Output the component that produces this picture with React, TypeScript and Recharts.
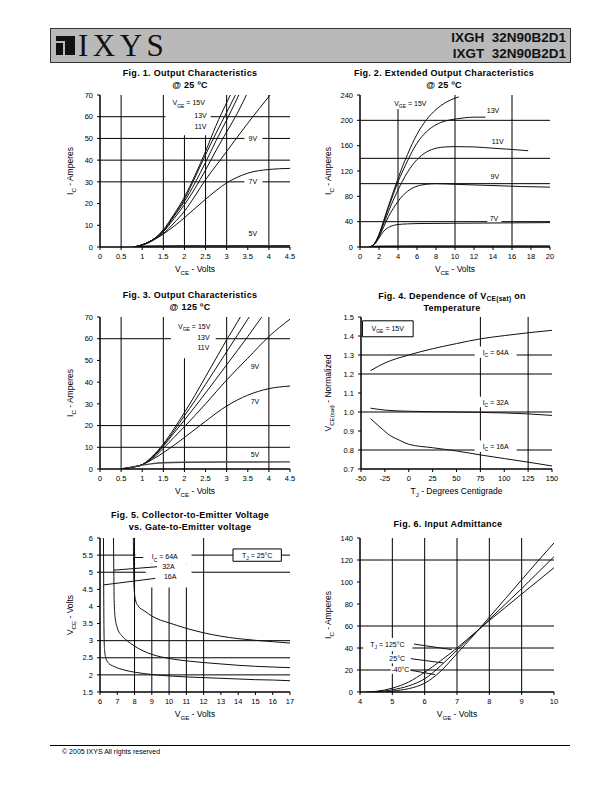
import React from 'react';
import {
  LineChart, Line, XAxis, YAxis, CartesianGrid, ReferenceArea, ReferenceLine, ReferenceDot,
} from 'recharts';

type Pt = { x: number; y: number };
type Part = [string, 'n' | 'sub' | 'sup'];

const FONT = '"Liberation Sans", Arial, Helvetica, sans-serif';

// ---------------- Fig. 1 : Output characteristics @ 25 C ----------------
const fig1XTicks = [0, 0.5, 1, 1.5, 2, 2.5, 3, 3.5, 4, 4.5];
const fig1YTicks = [0, 10, 20, 30, 40, 50, 60, 70];
const fig1GridX = [0.5, 1.5, 2, 2.5, 3, 4];
const fig1GridY = [30, 40, 50, 60];
const fig1Vge15: Pt[] = [{ x: 0.8, y: 0 }, { x: 1, y: 1 }, { x: 1.3, y: 4 }, { x: 1.5, y: 8 }, { x: 1.75, y: 15 }, { x: 2, y: 23 }, { x: 2.25, y: 33 }, { x: 2.5, y: 44 }, { x: 2.75, y: 56 }, { x: 3, y: 66.5 }, { x: 3.1, y: 70.5 }];
const fig1Vge13: Pt[] = [{ x: 0.8, y: 0 }, { x: 1, y: 1 }, { x: 1.3, y: 4 }, { x: 1.5, y: 7.5 }, { x: 1.75, y: 14.5 }, { x: 2, y: 22 }, { x: 2.25, y: 32 }, { x: 2.5, y: 42.5 }, { x: 2.75, y: 52.5 }, { x: 3, y: 62 }, { x: 3.22, y: 70.5 }];
const fig1Vge11: Pt[] = [{ x: 0.8, y: 0 }, { x: 1, y: 1 }, { x: 1.3, y: 4 }, { x: 1.5, y: 7.2 }, { x: 1.75, y: 14 }, { x: 2, y: 21 }, { x: 2.25, y: 29.5 }, { x: 2.5, y: 39 }, { x: 2.75, y: 49 }, { x: 3, y: 58.5 }, { x: 3.3, y: 70.5 }];
const fig1VgeExtra: Pt[] = [{ x: 0.8, y: 0 }, { x: 1, y: 1 }, { x: 1.3, y: 4 }, { x: 1.5, y: 7 }, { x: 1.75, y: 13 }, { x: 2, y: 19.5 }, { x: 2.25, y: 27 }, { x: 2.5, y: 35.5 }, { x: 2.75, y: 44.5 }, { x: 3, y: 53 }, { x: 3.25, y: 61.5 }, { x: 3.48, y: 70.5 }];
const fig1Vge9: Pt[] = [{ x: 0.8, y: 0 }, { x: 1, y: 1 }, { x: 1.3, y: 3.8 }, { x: 1.5, y: 6.2 }, { x: 1.75, y: 11 }, { x: 2, y: 16.5 }, { x: 2.25, y: 23.5 }, { x: 2.5, y: 31 }, { x: 2.75, y: 37.5 }, { x: 3, y: 44 }, { x: 3.5, y: 57 }, { x: 4.05, y: 70.5 }];
const fig1Vge7: Pt[] = [{ x: 0.8, y: 0 }, { x: 1, y: 0.8 }, { x: 1.3, y: 3.5 }, { x: 1.5, y: 6 }, { x: 1.75, y: 9.5 }, { x: 2, y: 13.5 }, { x: 2.5, y: 22 }, { x: 3, y: 29.5 }, { x: 3.5, y: 34 }, { x: 4, y: 35.7 }, { x: 4.5, y: 36.2 }];
const fig1Vge5: Pt[] = [{ x: 0.8, y: 0 }, { x: 1.2, y: 0.4 }, { x: 2, y: 0.6 }, { x: 4.5, y: 0.6 }];

// ---------------- Fig. 2 : Extended output characteristics ----------------
const fig2XTicks = [0, 2, 4, 6, 8, 10, 12, 14, 16, 18, 20];
const fig2YTicks = [0, 40, 80, 120, 160, 200, 240];
const fig2GridX = [4, 10, 16];
const fig2GridY = [40, 100, 140, 200];
const fig2Vge15: Pt[] = [{ x: 1, y: 0 }, { x: 1.5, y: 5 }, { x: 2, y: 20 }, { x: 2.5, y: 42 }, { x: 3, y: 65 }, { x: 3.5, y: 87 }, { x: 4, y: 108 }, { x: 4.5, y: 128 }, { x: 5, y: 146 }, { x: 5.5, y: 163 }, { x: 6, y: 178 }, { x: 7, y: 201 }, { x: 8, y: 217 }, { x: 9, y: 228 }, { x: 10, y: 235 }, { x: 10.4, y: 237 }];
const fig2Vge13: Pt[] = [{ x: 1, y: 0 }, { x: 1.5, y: 5 }, { x: 2, y: 19 }, { x: 2.5, y: 40 }, { x: 3, y: 62 }, { x: 3.5, y: 83 }, { x: 4, y: 103 }, { x: 4.5, y: 120 }, { x: 5, y: 136 }, { x: 5.5, y: 151 }, { x: 6, y: 164 }, { x: 7, y: 182 }, { x: 8, y: 193 }, { x: 9, y: 199 }, { x: 10, y: 202 }, { x: 11, y: 204 }, { x: 12, y: 205 }, { x: 13.2, y: 205 }];
const fig2Vge11: Pt[] = [{ x: 1, y: 0 }, { x: 1.5, y: 5 }, { x: 2, y: 18 }, { x: 2.5, y: 37 }, { x: 3, y: 56 }, { x: 3.5, y: 74 }, { x: 4, y: 90 }, { x: 4.5, y: 105 }, { x: 5, y: 118 }, { x: 6, y: 138 }, { x: 7, y: 150 }, { x: 8, y: 156 }, { x: 9, y: 158 }, { x: 10, y: 158.5 }, { x: 12, y: 158 }, { x: 14, y: 156 }, { x: 16, y: 154 }, { x: 17.7, y: 152 }];
const fig2Vge9: Pt[] = [{ x: 1, y: 0 }, { x: 1.5, y: 4 }, { x: 2, y: 16 }, { x: 2.5, y: 32 }, { x: 3, y: 48 }, { x: 3.5, y: 61 }, { x: 4, y: 72 }, { x: 4.5, y: 81 }, { x: 5, y: 88 }, { x: 6, y: 96 }, { x: 7, y: 99 }, { x: 8, y: 100 }, { x: 10, y: 99 }, { x: 14, y: 97 }, { x: 17, y: 95.5 }, { x: 20, y: 94.5 }];
const fig2Vge7: Pt[] = [{ x: 1, y: 0 }, { x: 1.5, y: 4 }, { x: 2, y: 14 }, { x: 2.5, y: 25 }, { x: 3, y: 31 }, { x: 3.5, y: 34 }, { x: 4, y: 35.5 }, { x: 5, y: 36.5 }, { x: 6, y: 37 }, { x: 10, y: 37.5 }, { x: 15, y: 38 }, { x: 20, y: 38.5 }];
const fig2Vge5: Pt[] = [{ x: 1, y: 0 }, { x: 2, y: 1 }, { x: 5, y: 1.5 }, { x: 20, y: 1.5 }];

// ---------------- Fig. 3 : Output characteristics @ 125 C ----------------
const fig3XTicks = [0, 0.5, 1, 1.5, 2, 2.5, 3, 3.5, 4, 4.5];
const fig3YTicks = [0, 10, 20, 30, 40, 50, 60, 70];
const fig3GridX = [0.5, 1.5, 2, 3, 4];
const fig3GridY = [10, 20, 60];
const fig3Vge15: Pt[] = [{ x: 0.5, y: 0 }, { x: 0.75, y: 0.8 }, { x: 1, y: 2 }, { x: 1.25, y: 6 }, { x: 1.5, y: 11.5 }, { x: 1.75, y: 18.5 }, { x: 2, y: 26 }, { x: 2.25, y: 34 }, { x: 2.5, y: 42.5 }, { x: 2.75, y: 51 }, { x: 3, y: 59.5 }, { x: 3.25, y: 67.5 }, { x: 3.34, y: 70.5 }];
const fig3Vge13: Pt[] = [{ x: 0.5, y: 0 }, { x: 0.75, y: 0.8 }, { x: 1, y: 2 }, { x: 1.25, y: 5.8 }, { x: 1.5, y: 11 }, { x: 1.75, y: 17.5 }, { x: 2, y: 24.5 }, { x: 2.25, y: 31.5 }, { x: 2.5, y: 39 }, { x: 2.75, y: 46.5 }, { x: 3, y: 54 }, { x: 3.25, y: 61.5 }, { x: 3.5, y: 69 }, { x: 3.55, y: 70.5 }];
const fig3Vge11: Pt[] = [{ x: 0.5, y: 0 }, { x: 0.75, y: 0.8 }, { x: 1, y: 2 }, { x: 1.25, y: 5.5 }, { x: 1.5, y: 10.5 }, { x: 1.75, y: 16.5 }, { x: 2, y: 22.5 }, { x: 2.5, y: 35 }, { x: 3, y: 48 }, { x: 3.5, y: 61 }, { x: 3.85, y: 70.5 }];
const fig3Vge9: Pt[] = [{ x: 0.5, y: 0 }, { x: 0.75, y: 0.8 }, { x: 1, y: 2 }, { x: 1.25, y: 5 }, { x: 1.5, y: 9.5 }, { x: 1.75, y: 14.5 }, { x: 2, y: 19.5 }, { x: 2.5, y: 30 }, { x: 3, y: 41 }, { x: 3.5, y: 51 }, { x: 4, y: 61 }, { x: 4.5, y: 69 }];
const fig3Vge7: Pt[] = [{ x: 0.5, y: 0 }, { x: 0.75, y: 0.8 }, { x: 1, y: 2 }, { x: 1.25, y: 4.5 }, { x: 1.5, y: 7.5 }, { x: 2, y: 14.5 }, { x: 2.5, y: 22 }, { x: 3, y: 29 }, { x: 3.5, y: 34 }, { x: 4, y: 37 }, { x: 4.5, y: 38.2 }];
const fig3Vge5: Pt[] = [{ x: 0.5, y: 0 }, { x: 0.75, y: 0.8 }, { x: 1, y: 1.8 }, { x: 1.25, y: 2.5 }, { x: 1.5, y: 2.9 }, { x: 2, y: 3.1 }, { x: 3, y: 3.2 }, { x: 4.5, y: 3.3 }];

// ---------------- Fig. 4 : VCE(sat) vs temperature ----------------
const fig4XTicks = [-50, -25, 0, 25, 50, 75, 100, 125, 150];
const fig4YTicks = [0.7, 0.8, 0.9, 1.0, 1.1, 1.2, 1.3, 1.4, 1.5];
const fig4GridX = [75, 125];
const fig4GridY = [0.8, 1.0, 1.2, 1.3];
const fig4Ic64: Pt[] = [{ x: -40, y: 1.218 }, { x: -25, y: 1.258 }, { x: 0, y: 1.3 }, { x: 25, y: 1.333 }, { x: 50, y: 1.36 }, { x: 75, y: 1.385 }, { x: 100, y: 1.402 }, { x: 125, y: 1.417 }, { x: 150, y: 1.43 }];
const fig4Ic32: Pt[] = [{ x: -40, y: 1.02 }, { x: -25, y: 1.01 }, { x: 0, y: 1.004 }, { x: 50, y: 1.0 }, { x: 100, y: 0.995 }, { x: 125, y: 0.99 }, { x: 150, y: 0.982 }];
const fig4Ic16: Pt[] = [{ x: -40, y: 0.965 }, { x: -30, y: 0.92 }, { x: -20, y: 0.878 }, { x: -10, y: 0.852 }, { x: 0, y: 0.83 }, { x: 25, y: 0.812 }, { x: 50, y: 0.795 }, { x: 75, y: 0.774 }, { x: 100, y: 0.755 }, { x: 125, y: 0.736 }, { x: 150, y: 0.716 }];

// ---------------- Fig. 5 : VCE vs VGE ----------------
const fig5XTicks = [6, 7, 8, 9, 10, 11, 12, 13, 14, 15, 16, 17];
const fig5YTicks = [1.5, 2, 2.5, 3, 3.5, 4, 4.5, 5, 5.5, 6];
const fig5GridX = [8, 9, 10, 11, 12];
const fig5GridY = [2, 2.5, 3, 5, 5.5];
const fig5Ic64: Pt[] = [{ x: 7.93, y: 6.05 }, { x: 7.95, y: 5 }, { x: 7.98, y: 4.5 }, { x: 8.05, y: 4.2 }, { x: 8.2, y: 4.02 }, { x: 8.6, y: 3.86 }, { x: 9, y: 3.72 }, { x: 9.5, y: 3.6 }, { x: 10, y: 3.52 }, { x: 11, y: 3.36 }, { x: 12, y: 3.23 }, { x: 13, y: 3.13 }, { x: 14, y: 3.06 }, { x: 15, y: 3.01 }, { x: 16, y: 2.97 }, { x: 17, y: 2.93 }];
const fig5Ic32: Pt[] = [{ x: 6.78, y: 6.05 }, { x: 6.8, y: 5 }, { x: 6.82, y: 4.2 }, { x: 6.87, y: 3.7 }, { x: 7, y: 3.38 }, { x: 7.25, y: 3.15 }, { x: 7.57, y: 3.0 }, { x: 8, y: 2.84 }, { x: 8.5, y: 2.7 }, { x: 9, y: 2.6 }, { x: 10, y: 2.48 }, { x: 11, y: 2.41 }, { x: 12, y: 2.36 }, { x: 13, y: 2.32 }, { x: 14, y: 2.28 }, { x: 15, y: 2.25 }, { x: 16, y: 2.23 }, { x: 17, y: 2.21 }];
const fig5Ic16: Pt[] = [{ x: 6.2, y: 6.05 }, { x: 6.21, y: 5 }, { x: 6.22, y: 4 }, { x: 6.24, y: 3 }, { x: 6.27, y: 2.7 }, { x: 6.35, y: 2.47 }, { x: 6.5, y: 2.34 }, { x: 6.8, y: 2.25 }, { x: 7.5, y: 2.13 }, { x: 8, y: 2.08 }, { x: 9, y: 2.01 }, { x: 10, y: 1.97 }, { x: 11, y: 1.94 }, { x: 12, y: 1.92 }, { x: 13, y: 1.9 }, { x: 14, y: 1.88 }, { x: 15, y: 1.86 }, { x: 16, y: 1.85 }, { x: 17, y: 1.83 }];

// ---------------- Fig. 6 : Input admittance ----------------
const fig6XTicks = [4, 5, 6, 7, 8, 9, 10];
const fig6YTicks = [0, 20, 40, 60, 80, 100, 120, 140];
const fig6GridX = [5, 6, 7, 8, 9];
const fig6GridY = [20, 40, 60, 120];
const fig6Tj125: Pt[] = [{ x: 4.2, y: 0 }, { x: 4.5, y: 0.6 }, { x: 5, y: 3.5 }, { x: 5.5, y: 9 }, { x: 6, y: 18 }, { x: 6.5, y: 28.5 }, { x: 7, y: 40 }, { x: 7.5, y: 52.5 }, { x: 8, y: 65 }, { x: 8.5, y: 77 }, { x: 9, y: 89 }, { x: 9.5, y: 101 }, { x: 10, y: 113 }];
const fig6Tj25: Pt[] = [{ x: 4.5, y: 0 }, { x: 5, y: 2 }, { x: 5.5, y: 5.5 }, { x: 6, y: 12 }, { x: 6.5, y: 24 }, { x: 7, y: 38 }, { x: 7.5, y: 52 }, { x: 8, y: 66 }, { x: 8.5, y: 80 }, { x: 9, y: 94 }, { x: 9.5, y: 108.5 }, { x: 10, y: 123 }];
const fig6TjM40: Pt[] = [{ x: 4.8, y: 0 }, { x: 5, y: 0.8 }, { x: 5.5, y: 3 }, { x: 6, y: 8 }, { x: 6.5, y: 19 }, { x: 7, y: 35 }, { x: 7.5, y: 51 }, { x: 8, y: 68 }, { x: 8.5, y: 85 }, { x: 9, y: 102 }, { x: 9.5, y: 119 }, { x: 10, y: 135.5 }];

// ---------------- helpers ----------------
const Y_W = 40;
const M_T = 5;
const M_R = 8;
const X_H = 35;
const tickStyle = { fontSize: 7.5, fill: '#000', fontFamily: FONT };

function Rich(props: { x: number; y: number; parts: Part[]; size?: number; anchor?: 'start' | 'middle' | 'end'; rotate?: boolean }) {
  const { x, y, parts, size = 7, anchor = 'middle', rotate = false } = props;
  let shift = 0;
  const spans = parts.map(([t, k], i) => {
    const target = k === 'sub' ? size * 0.32 : k === 'sup' ? -size * 0.4 : 0;
    const dy = target - shift;
    shift = target;
    return (
      <tspan key={i} dy={dy} fontSize={k === 'n' ? size : size * 0.72}>{t}</tspan>
    );
  });
  return (
    <text x={x} y={y} textAnchor={anchor} fontFamily={FONT} fontSize={size} fill="#000"
      transform={rotate ? `rotate(-90 ${x} ${y})` : undefined}>
      {spans}
    </text>
  );
}

const axisTitleX = (parts: Part[]) => (p: any) => {
  const vb = p.viewBox || { x: 0, y: 0, width: 0, height: 0 };
  return <Rich x={vb.x + vb.width / 2} y={vb.y + 25} parts={parts} size={8.5} />;
};
const axisTitleY = (parts: Part[], dist: number) => (p: any) => {
  const vb = p.viewBox || { x: 0, y: 0, width: 0, height: 0 };
  const cx = vb.x + vb.width - dist;
  const cy = vb.y + vb.height / 2;
  return <Rich x={cx + 3} y={cy} parts={parts} size={8.5} rotate />;
};

function xAxis(domain: [number, number], ticks: number[], title: Part[], fmt?: (v: number) => string) {
  return (
    <XAxis type="number" dataKey="x" domain={domain} ticks={ticks} interval={0} allowDataOverflow
      tick={tickStyle} tickLine={{ stroke: '#000' }} tickSize={3} tickMargin={4}
      axisLine={{ stroke: '#000', strokeWidth: 1.5 }} height={X_H} tickFormatter={fmt}
      label={axisTitleX(title)} />
  );
}
function yAxis(domain: [number, number], ticks: number[], title: Part[], dist: number, fmt?: (v: number) => string) {
  return (
    <YAxis type="number" domain={domain} ticks={ticks} interval={0} allowDataOverflow
      tick={tickStyle} tickLine={{ stroke: '#000' }} tickSize={3} tickMargin={4}
      axisLine={{ stroke: '#000', strokeWidth: 1.5 }} width={Y_W} tickFormatter={fmt}
      label={axisTitleY(title, dist)} />
  );
}
const curve = (k: string, data: Pt[], w = 1, color = '#111') => (
  <Line key={k} data={data} dataKey="y" type="monotone" stroke={color} strokeWidth={w}
    dot={false} activeDot={false} isAnimationActive={false} />
);
const mask = (k: string, x1: number, x2: number, y1: number, y2: number, stroke?: string) => (
  <ReferenceArea key={k} x1={x1} x2={x2} y1={y1} y2={y2} fill="#fff" fillOpacity={1}
    stroke={stroke ?? 'none'} strokeWidth={1} />
);
const note = (k: string, x: number, y: number, parts: Part[], size = 7) => (
  <ReferenceDot key={k} x={x} y={y} r={0} fill="none" stroke="none"
    label={(p: any) => {
      const vb = p.viewBox || { x: 0, y: 0, width: 0, height: 0 };
      const cx = vb.x + (vb.width || 0) / 2;
      const cy = vb.y + (vb.height || 0) / 2;
      return <Rich x={cx} y={cy + size * 0.35} parts={parts} size={size} />;
    }} />
);
const leader = (k: string, x1: number, y1: number, x2: number, y2: number) => (
  <ReferenceLine key={k} segment={[{ x: x1, y: y1 }, { x: x2, y: y2 }]} stroke="#111" strokeWidth={1} />
);
const grid = (gx: number[], gy: number[]) => (
  <CartesianGrid stroke="#000" strokeWidth={1} horizontalValues={gy} verticalValues={gx} />
);

function Panel(props: { plotLeft: number; plotTop: number; plotW: number; plotH: number; children: React.ReactNode }) {
  const { plotLeft, plotTop, plotW, plotH, children } = props;
  return (
    <div style={{ position: 'absolute', left: plotLeft - Y_W, top: plotTop - M_T }}>
      <LineChart width={Y_W + plotW + M_R} height={M_T + plotH + X_H}
        margin={{ top: M_T, right: M_R, left: 0, bottom: 0 }}>
        {children}
      </LineChart>
    </div>
  );
}

function Title(props: { cx: number; top: number; children: React.ReactNode }) {
  return (
    <div style={{
      position: 'absolute', left: props.cx - 150, width: 300, top: props.top, textAlign: 'center',
      fontFamily: FONT, fontWeight: 'bold', fontSize: 9, lineHeight: '12px', letterSpacing: 0.3, color: '#000',
    }}>{props.children}</div>
  );
}

const VCE: Part[] = [['V', 'n'], ['CE', 'sub'], [' - Volts', 'n']];
const VGE: Part[] = [['V', 'n'], ['GE', 'sub'], [' - Volts', 'n']];
const IC: Part[] = [['I', 'n'], ['C', 'sub'], [' - Amperes', 'n']];
const fmt1 = (v: number) => v.toFixed(1);
const fmtHalf = (v: number) => (Number.isInteger(v) ? String(v) : v.toFixed(1));

export default function App() {
  return (
    <div style={{ position: 'absolute', left: 0, top: 0, width: 595, height: 791, background: '#fff', overflow: 'hidden' }}>
      {/* header */}
      <div style={{ position: 'absolute', left: 50, top: 28, width: 519, height: 33, background: '#b9b9b9', border: '1px solid #333' }}>
        <div style={{ position: 'absolute', left: 5, top: 7, width: 19, height: 19, background: '#111' }}>
          <div style={{ position: 'absolute', left: 0, top: 5, width: 9, height: 2, background: '#b9b9b9' }} />
          <div style={{ position: 'absolute', left: 7, top: 5, width: 2, height: 14, background: '#b9b9b9' }} />
        </div>
        <div style={{ position: 'absolute', left: 27, top: -1, fontFamily: '"Liberation Serif", "DejaVu Serif", serif', fontSize: 31, letterSpacing: 4.5, color: '#111', lineHeight: '36px' }}>IXYS</div>
        <div style={{ position: 'absolute', right: 4, top: 1, textAlign: 'right', fontFamily: FONT, fontWeight: 'bold', fontSize: 13.5, lineHeight: '16px', color: '#111', whiteSpace: 'pre' }}>
          {'IXGH  32N90B2D1\nIXGT  32N90B2D1'}
        </div>
      </div>

      {/* titles */}
      <Title cx={190} top={67}>Fig. 1. Output Characteristics<br />@ 25 ºC</Title>
      <Title cx={444} top={67}>Fig. 2. Extended Output Characteristics<br />@ 25 ºC</Title>
      <Title cx={190} top={289}>Fig. 3. Output Characteristics<br />@ 125 ºC</Title>
      <Title cx={452} top={290}>
        Fig. 4. Dependence of V<span style={{ fontSize: 6.5, verticalAlign: '-2px', lineHeight: 0 }}>CE(sat)</span> on<br />Temperature
      </Title>
      <Title cx={190} top={509}>Fig. 5. Collector-to-Emitter Voltage<br />vs. Gate-to-Emitter voltage</Title>
      <Title cx={448} top={518}>Fig. 6. Input Admittance</Title>

      {/* Fig 1 */}
      <Panel plotLeft={100} plotTop={95} plotW={190} plotH={152}>
        {grid(fig1GridX, fig1GridY)}
        {xAxis([0, 4.5], fig1XTicks, VCE)}
        {yAxis([0, 70], fig1YTicks, IC, 30)}
        {mask('m1', 1.55, 2.62, 51.5, 70)}
        {mask('m2', 3.42, 3.85, 47.2, 52.8)}
        {mask('m3', 3.42, 3.85, 27.2, 32.8)}
        {curve('c15', fig1Vge15)}
        {curve('c13', fig1Vge13)}
        {curve('c11', fig1Vge11)}
        {curve('cx', fig1VgeExtra)}
        {curve('c9', fig1Vge9)}
        {curve('c7', fig1Vge7)}
        {curve('c5', fig1Vge5, 1.6, '#333')}
        {note('n1', 2.1, 66.3, [['V', 'n'], ['GE', 'sub'], [' = 15V', 'n']])}
        {note('n2', 2.38, 60.6, [['13V', 'n']])}
        {note('n3', 2.38, 55.5, [['11V', 'n']])}
        {note('n4', 3.62, 50, [['9V', 'n']])}
        {note('n5', 3.62, 30, [['7V', 'n']])}
        {note('n6', 3.62, 6, [['5V', 'n']])}
      </Panel>

      {/* Fig 2 */}
      <Panel plotLeft={360} plotTop={95} plotW={190} plotH={152}>
        {grid(fig2GridX, fig2GridY)}
        {xAxis([0, 20], fig2XTicks, VCE)}
        {yAxis([0, 240], fig2YTicks, IC, 32)}
        {mask('m1', 3.3, 7.7, 218, 240)}
        {mask('m2', 13.4, 14.9, 39.2, 50)}
        {curve('c15', fig2Vge15)}
        {curve('c13', fig2Vge13)}
        {curve('c11', fig2Vge11)}
        {curve('c9', fig2Vge9)}
        {curve('c7', fig2Vge7)}
        {curve('c5', fig2Vge5, 1.6, '#333')}
        {note('n1', 5.3, 227, [['V', 'n'], ['GE', 'sub'], [' = 15V', 'n']])}
        {note('n2', 14, 215, [['13V', 'n']])}
        {note('n3', 14.5, 166, [['11V', 'n']])}
        {note('n4', 14.2, 111, [['9V', 'n']])}
        {note('n5', 14.1, 45, [['7V', 'n']])}
      </Panel>

      {/* Fig 3 */}
      <Panel plotLeft={100} plotTop={317} plotW={190} plotH={152}>
        {grid(fig3GridX, fig3GridY)}
        {xAxis([0, 4.5], fig3XTicks, VCE)}
        {yAxis([0, 70], fig3YTicks, IC, 30)}
        {mask('m1', 1.68, 2.74, 51, 70)}
        {curve('c15', fig3Vge15)}
        {curve('c13', fig3Vge13)}
        {curve('c11', fig3Vge11)}
        {curve('c9', fig3Vge9)}
        {curve('c7', fig3Vge7)}
        {curve('c5', fig3Vge5, 1.4, '#444')}
        {note('n1', 2.23, 65.5, [['V', 'n'], ['GE', 'sub'], [' = 15V', 'n']])}
        {note('n2', 2.45, 60.6, [['13V', 'n']])}
        {note('n3', 2.45, 56, [['11V', 'n']])}
        {note('n4', 3.67, 47, [['9V', 'n']])}
        {note('n5', 3.67, 31, [['7V', 'n']])}
        {note('n6', 3.67, 6.8, [['5V', 'n']])}
      </Panel>

      {/* Fig 4 */}
      <Panel plotLeft={361} plotTop={317} plotW={191} plotH={152}>
        {grid(fig4GridX, fig4GridY)}
        {xAxis([-50, 150], fig4XTicks, [['T', 'n'], ['J', 'sub'], [' - Degrees Centigrade', 'n']])}
        {yAxis([0.7, 1.5], fig4YTicks, [['V', 'n'], ['CE(sat)', 'sub'], [' - Normalized', 'n']], 33, fmt1)}
        {mask('m1', -48.5, 4.6, 1.396, 1.48, '#000')}
        {mask('m2', 69, 113, 1.285, 1.345)}
        {mask('m3', 69, 113, 1.025, 1.08)}
        {mask('m4', 69, 113, 0.79, 0.85)}
        {curve('c64', fig4Ic64)}
        {curve('c32', fig4Ic32)}
        {curve('c16', fig4Ic16)}
        {note('n1', -22, 1.438, [['V', 'n'], ['GE', 'sub'], [' = 15V', 'n']])}
        {note('n2', 91, 1.313, [['I', 'n'], ['C', 'sub'], [' = 64A', 'n']])}
        {note('n3', 91, 1.052, [['I', 'n'], ['C', 'sub'], [' = 32A', 'n']])}
        {note('n4', 91, 0.82, [['I', 'n'], ['C', 'sub'], [' = 16A', 'n']])}
      </Panel>

      {/* Fig 5 */}
      <Panel plotLeft={100} plotTop={538} plotW={190} plotH={154}>
        {grid(fig5GridX, fig5GridY)}
        {xAxis([6, 17], fig5XTicks, VGE)}
        {yAxis([1.5, 6], fig5YTicks, [['V', 'n'], ['CE', 'sub'], [' - Volts', 'n']], 30, fmtHalf)}
        {mask('m1', 8.05, 11.3, 5.25, 6)}
        {mask('m2', 8.65, 11.3, 4.55, 5.25)}
        {mask('m3', 13.7, 16.5, 5.32, 5.68, '#000')}
        {curve('c64', fig5Ic64)}
        {curve('c32', fig5Ic32)}
        {curve('c16', fig5Ic16)}
        {leader('l1', 7.97, 5.43, 8.5, 5.43)}
        {leader('l2', 6.8, 5.06, 9.3, 5.16)}
        {leader('l3', 6.22, 4.63, 9.2, 4.82)}
        {note('n1', 9.75, 5.45, [['I', 'n'], ['C', 'sub'], [' = 64A', 'n']])}
        {note('n2', 9.96, 5.18, [['32A', 'n']])}
        {note('n3', 10.06, 4.86, [['16A', 'n']])}
        {note('n4', 15.1, 5.5, [['T', 'n'], ['J', 'sub'], [' = 25°C', 'n']])}
      </Panel>

      {/* Fig 6 */}
      <Panel plotLeft={360} plotTop={538} plotW={194} plotH={154}>
        {grid(fig6GridX, fig6GridY)}
        {xAxis([4, 10], fig6XTicks, VGE)}
        {yAxis([0, 140], fig6YTicks, IC, 32)}
        {mask('m1', 4.1, 5.62, 37, 49)}
        {mask('m2', 4.95, 5.45, 26, 34.5)}
        {mask('m3', 4.95, 5.55, 16.5, 23.5)}
        {curve('c125', fig6Tj125)}
        {curve('c25', fig6Tj25)}
        {curve('cm40', fig6TjM40)}
        {leader('l1', 5.67, 43.6, 6.84, 38.5)}
        {leader('l2', 5.57, 30.3, 6.58, 26.4)}
        {leader('l3', 5.58, 19.7, 6.32, 15.8)}
        {note('n1', 4.85, 43.5, [['T', 'n'], ['J', 'sub'], [' = 125°C', 'n']])}
        {note('n2', 5.15, 30, [['25°C', 'n']])}
        {note('n3', 5.25, 20, [['-40°C', 'n']])}
      </Panel>

      {/* footer */}
      <div style={{ position: 'absolute', left: 50, top: 745, width: 520, height: 1, background: '#000' }} />
      <div style={{ position: 'absolute', left: 62, top: 748, fontFamily: FONT, fontSize: 7, color: '#000', whiteSpace: 'nowrap' }}>© 2005 IXYS All rights reserved</div>
    </div>
  );
}
